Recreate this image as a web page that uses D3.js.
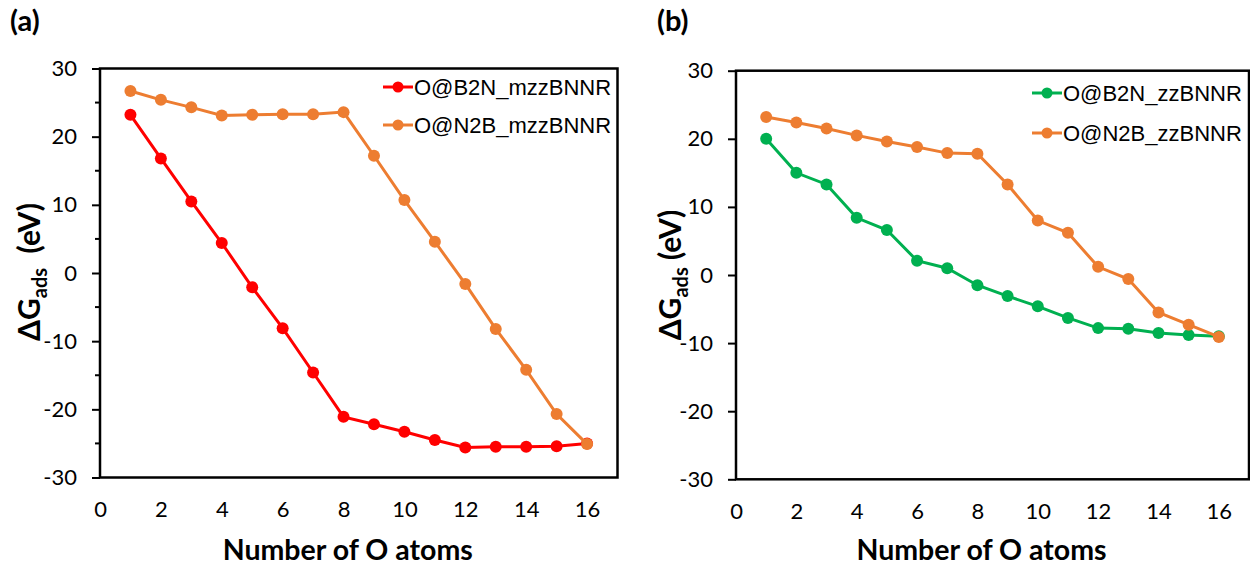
<!DOCTYPE html>
<html>
<head>
<meta charset="utf-8">
<script src="https://cdn.jsdelivr.net/npm/d3@7"></script>
<style>
  body { margin: 0; background: #fff; }
  text { font-family: Lato, "Open Sans", sans-serif; fill: #000; }
  .legend text { font-family: "Liberation Sans", Arial, sans-serif; }
</style>
</head>
<body>
<div id="chart"></div>
<script>
// data: number of O atoms on x axis
const atoms = [1, 2, 3, 4, 5, 6, 7, 8, 9, 10, 11, 12, 13, 14, 15, 16];
const xTicks = [0, 2, 4, 6, 8, 10, 12, 14, 16];
const yTicks = [-30, -20, -10, 0, 10, 20, 30];

// panel (a) mzzBNNR
const b2nMzz = [23.2, 16.8, 10.5, 4.4, -2.1, -8.1, -14.6, -21.1, -22.2, -23.3, -24.5, -25.6, -25.5, -25.5, -25.4, -25.0];
const n2bMzz = [26.7, 25.4, 24.3, 23.1, 23.2, 23.3, 23.3, 23.6, 17.2, 10.7, 4.6, -1.6, -8.2, -14.2, -20.7, -25.1];

// panel (b) zzBNNR
const b2nZz = [20.0, 15.0, 13.3, 8.4, 6.6, 2.1, 1.0, -1.5, -3.1, -4.6, -6.3, -7.8, -7.9, -8.5, -8.8, -9.0];
const n2bZz = [23.2, 22.4, 21.5, 20.5, 19.6, 18.8, 17.9, 17.8, 13.3, 8.0, 6.2, 1.2, -0.6, -5.5, -7.3, -9.1];

const width = 1250, height = 566;

const svg = d3.select("#chart").append("svg")
    .attr("width", width)
    .attr("height", height);

function drawPanel(opt) {
    const x = d3.scaleLinear().domain([0, 17]).range([opt.left, opt.right]);
    const y = d3.scaleLinear().domain([-30, 30]).range([opt.bottom, opt.top]);
    const g = svg.append("g");

    // panel tag
    g.append("text")
        .attr("x", opt.tagX).attr("y", 31)
        .style("font-size", "29px").style("font-weight", "bold")
        .text(opt.tag);

    // y axis with outside ticks
    const yAxis = d3.axisLeft(y).tickValues(yTicks).tickSize(8).tickPadding(15).tickFormat(d => String(d));
    const ya = g.append("g").attr("transform", `translate(${opt.left},0)`).call(yAxis);
    ya.select(".domain").remove();
    ya.selectAll("line").attr("stroke", "#000").attr("stroke-width", 2);
    ya.selectAll("text").style("font-size", "22px").attr("font-family", "Lato, sans-serif");

    if (opt.minor) {
        g.selectAll(".minor")
            .data(d3.range(-25, 30, 10))
            .enter().append("line")
            .attr("x1", opt.left - 5).attr("x2", opt.left)
            .attr("y1", d => y(d)).attr("y2", d => y(d))
            .attr("stroke", "#000").attr("stroke-width", 2);
    }

    // x axis labels only (no tick marks)
    const xAxis = d3.axisBottom(x).tickValues(xTicks).tickSize(0).tickPadding(24);
    const xa = g.append("g").attr("transform", `translate(0,${opt.bottom})`).call(xAxis);
    xa.select(".domain").remove();
    xa.selectAll("text").style("font-size", "22px").attr("font-family", "Lato, sans-serif");

    // frame
    g.append("rect")
        .attr("x", opt.left).attr("y", opt.top)
        .attr("width", opt.right - opt.left).attr("height", opt.bottom - opt.top)
        .attr("fill", "none").attr("stroke", "#000").attr("stroke-width", 2.5);

    // axis titles
    g.append("text")
        .attr("x", (opt.left + opt.right) / 2 - 11).attr("y", 560)
        .attr("text-anchor", "middle")
        .style("font-size", "28.5px").style("font-weight", "bold")
        .text("Number of O atoms");

    const yl = g.append("text")
        .attr("transform", `translate(${opt.ylabX},${opt.ylabY}) rotate(-90)`)
        .attr("text-anchor", "middle")
        .style("font-size", "30px").style("font-weight", "bold");
    yl.append("tspan").text("ΔG");
    yl.append("tspan").attr("dy", 7).style("font-size", "20px").text("ads");
    yl.append("tspan").attr("dy", -7).attr("xml:space", "preserve").text(opt.gap + "(eV)");

    // series
    const line = d3.line().x(d => x(d[0])).y(d => y(d[1]));
    opt.series.forEach(s => {
        const pts = atoms.map((a, i) => [a, s.values[i]]);
        g.append("path")
            .datum(pts)
            .attr("d", line)
            .attr("fill", "none")
            .attr("stroke", s.color)
            .attr("stroke-width", 3);
        g.selectAll(null)
            .data(pts)
            .enter().append("circle")
            .attr("cx", d => x(d[0])).attr("cy", d => y(d[1]))
            .attr("r", 6)
            .attr("fill", s.color);
    });

    // legend
    const lg = g.append("g").attr("class", "legend");
    opt.series.forEach((s, i) => {
        const ly = opt.legY + i * opt.legGap;
        lg.append("line")
            .attr("x1", opt.legX).attr("x2", opt.legX + 30)
            .attr("y1", ly).attr("y2", ly)
            .attr("stroke", s.color).attr("stroke-width", 3);
        lg.append("circle")
            .attr("cx", opt.legX + 15).attr("cy", ly).attr("r", 5.5)
            .attr("fill", s.color);
        lg.append("text")
            .attr("x", opt.legX + 31).attr("y", ly).attr("dy", "0.36em")
            .style("font-size", "22px")
            .text(s.name);
    });
}

drawPanel({
    tag: "(a)", tagX: 10,
    left: 100, right: 617.5, top: 68.5, bottom: 477.5,
    minor: true,
    ylabX: 40, ylabY: 272, gap: "  ",
    legX: 383, legY: 87, legGap: 38,
    series: [
        { name: "O@B2N_mzzBNNR", values: b2nMzz, color: "#FF0000" },
        { name: "O@N2B_mzzBNNR", values: n2bMzz, color: "#ED7D31" }
    ]
});

drawPanel({
    tag: "(b)", tagX: 657,
    left: 736, right: 1249, top: 70.7, bottom: 479.3,
    minor: false,
    ylabX: 681, ylabY: 275, gap: " ",
    legX: 1032, legY: 93, legGap: 40,
    series: [
        { name: "O@B2N_zzBNNR", values: b2nZz, color: "#00B050" },
        { name: "O@N2B_zzBNNR", values: n2bZz, color: "#ED7D31" }
    ]
});
</script>
</body>
</html>
